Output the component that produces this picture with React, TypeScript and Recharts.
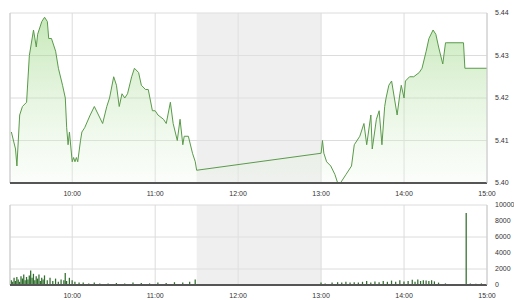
import React from "react";
import {
  Area, AreaChart, Bar, BarChart, CartesianGrid, ReferenceArea, ReferenceLine,
  XAxis, YAxis
} from "recharts";

// price line (time, price)
const priceTimes = [
  "09:16", "09:19", "09:20", "09:22", "09:24", "09:27", "09:29", "09:32", "09:34", "09:35",
  "09:38", "09:40", "09:42", "09:43", "09:45", "09:48", "09:50", "09:53", "09:55", "09:56",
  "09:57", "09:58", "10:00", "10:01", "10:02", "10:03", "10:04", "10:06", "10:07", "10:09",
  "10:13", "10:16", "10:19", "10:22", "10:25", "10:27", "10:30", "10:32", "10:34", "10:36",
  "10:38", "10:40", "10:43", "10:45", "10:48", "10:50", "10:53", "10:55", "10:58", "11:00",
  "11:02", "11:06", "11:08", "11:11", "11:13", "11:16", "11:18", "11:20", "11:21", "11:24",
  "11:27", "11:29", "11:30",
  "13:00", "13:01", "13:02", "13:04", "13:07", "13:10", "13:12", "13:14", "13:18", "13:22",
  "13:24", "13:28", "13:31", "13:33", "13:36", "13:37", "13:40", "13:42", "13:44", "13:46",
  "13:47", "13:49", "13:51", "13:53", "13:55", "13:57", "13:58", "14:00", "14:01", "14:04",
  "14:07", "14:11", "14:13", "14:16", "14:18", "14:21", "14:23", "14:25", "14:28", "14:30",
  "14:31", "14:43", "14:44", "15:00"
];
const priceValues = [
  5.412, 5.408, 5.404, 5.416, 5.418, 5.419, 5.430, 5.436, 5.432, 5.435,
  5.438, 5.439, 5.438, 5.434, 5.434, 5.431, 5.427, 5.423, 5.420, 5.413,
  5.409, 5.412, 5.405, 5.406, 5.405, 5.406, 5.405, 5.410, 5.412, 5.413,
  5.416, 5.418, 5.416, 5.414, 5.418, 5.420, 5.425, 5.423, 5.418, 5.421,
  5.420, 5.421, 5.425, 5.427, 5.426, 5.423, 5.422, 5.422, 5.417, 5.417,
  5.416, 5.415, 5.414, 5.419, 5.414, 5.410, 5.415, 5.409, 5.411, 5.411,
  5.407, 5.405, 5.403,
  5.407, 5.410, 5.407, 5.405, 5.404, 5.402, 5.400, 5.400, 5.402, 5.404,
  5.409, 5.411, 5.414, 5.409, 5.416, 5.408, 5.415, 5.417, 5.409, 5.418,
  5.420, 5.423, 5.424, 5.420, 5.416, 5.421, 5.423, 5.420, 5.424, 5.425,
  5.425, 5.426, 5.427, 5.431, 5.434, 5.436, 5.435, 5.432, 5.428, 5.433,
  5.433, 5.433, 5.427, 5.427
];

// volume bars (time, volume)
const volumeTimes = [
  "09:16", "09:17", "09:18", "09:19", "09:20", "09:21", "09:22", "09:23", "09:24", "09:25",
  "09:26", "09:27", "09:28", "09:29", "09:30", "09:31", "09:32", "09:33", "09:34", "09:35",
  "09:36", "09:37", "09:38", "09:39", "09:40", "09:42", "09:44", "09:46", "09:48", "09:50",
  "09:52", "09:54", "09:55", "09:56", "09:58", "10:00", "10:02", "10:05", "10:08", "10:12",
  "10:16", "10:20", "10:26", "10:32", "10:38", "10:44", "10:50", "10:56", "11:02", "11:08",
  "11:14", "11:20", "11:25", "11:29",
  "13:00", "13:03", "13:08", "13:12", "13:15", "13:18", "13:21", "13:24", "13:27", "13:30",
  "13:33", "13:36", "13:39", "13:42", "13:45", "13:48", "13:51", "13:54", "13:57", "14:00",
  "14:03", "14:06", "14:08", "14:10", "14:12", "14:14", "14:16", "14:18", "14:20", "14:22",
  "14:25", "14:30", "14:45", "14:48", "14:52", "14:56"
];
const volumeValues = [
  600, 400, 900, 500, 1000, 700, 400, 1100, 800, 1300,
  600, 1000, 700, 1200, 1800, 900, 1400, 600, 1100, 800,
  1300, 500, 900, 700, 1200, 600, 900, 500, 800, 400,
  700, 600, 1500, 500, 900, 600, 400, 300, 300, 200,
  300, 200, 200, 250, 200, 300, 250, 200, 300, 250,
  350, 300, 400, 700,
  300, 200, 300, 350, 300, 400, 300, 350, 300, 400,
  500, 300, 450, 350, 500, 400, 550, 400, 600, 450,
  500, 650, 400, 700, 500, 600, 550, 500, 600, 450,
  300, 200, 9000, 200, 150, 200
];

const timeTicks = ["10:00", "11:00", "12:00", "13:00", "14:00", "15:00"];
const priceTicks = [5.40, 5.41, 5.42, 5.43, 5.44];
const volumeTicks = [0, 2000, 4000, 6000, 8000, 10000];

const toMin = (t: string) => {
  const [h, m] = t.split(":").map(Number);
  return h * 60 + m;
};
const fmtTime = (v: number) =>
  `${String(Math.floor(v / 60)).padStart(2, "0")}:${String(v % 60).padStart(2, "0")}`;

const priceData = priceTimes.map((t, i) => ({ t: toMin(t), p: priceValues[i] }));
const volumeData = volumeTimes.map((t, i) => ({ t: toMin(t), v: volumeValues[i] }));
const xTicks = timeTicks.map(toMin);
const xDomain = [toMin("09:15"), toMin("15:00")];

const tickStyle = { fontSize: 7, fill: "#333", fontFamily: "Liberation Sans, Arial, sans-serif" };

export default function App() {
  return (
    <div style={{ position: "absolute", left: 0, top: 0, width: 514, height: 300, background: "#fff" }}>
      <div style={{ position: "absolute", left: 0, top: 0 }}>
        <AreaChart width={514} height={197} data={priceData}
          margin={{ top: 13, right: 0, left: 10, bottom: 0 }}>
          <defs>
            <linearGradient id="pg" x1="0" y1="0" x2="0" y2="1">
              <stop offset="0%" stopColor="#8fd275" stopOpacity={0.85} />
              <stop offset="100%" stopColor="#eef8ea" stopOpacity={0.4} />
            </linearGradient>
          </defs>
          <ReferenceArea x1={toMin("11:30")} x2={toMin("13:00")} fill="#e2e2e2" fillOpacity={0.55} stroke="none" />
          <CartesianGrid stroke="#dcdcdc" />
          <XAxis dataKey="t" type="number" domain={xDomain} ticks={xTicks} tickFormatter={fmtTime}
            tick={tickStyle} tickLine={false} axisLine={{ stroke: "#555", strokeWidth: 2 }} height={14}
            tickMargin={2} allowDataOverflow />
          <YAxis orientation="right" domain={[5.40, 5.44]} ticks={priceTicks} tickFormatter={(v: number) => v.toFixed(2)}
            tick={tickStyle} tickLine={false} axisLine={{ stroke: "#ccc" }} width={27} tickMargin={2} allowDataOverflow />
          <ReferenceLine x={xDomain[0]} stroke="#ccc" />
          <Area type="linear" dataKey="p" stroke="#5a9a4a" strokeWidth={1} fill="url(#pg)" isAnimationActive={false} baseValue={5.40} />
        </AreaChart>
      </div>
      <div style={{ position: "absolute", left: 0, top: 197 }}>
        <BarChart width={514} height={103} data={volumeData}
          margin={{ top: 8, right: 0, left: 10, bottom: 0 }}>
          <ReferenceArea x1={toMin("11:30")} x2={toMin("13:00")} fill="#e2e2e2" fillOpacity={0.55} stroke="none" />
          <CartesianGrid stroke="#dcdcdc" />
          <XAxis dataKey="t" type="number" domain={xDomain} ticks={xTicks} tickFormatter={fmtTime}
            tick={tickStyle} tickLine={false} axisLine={{ stroke: "#555", strokeWidth: 2 }} height={15}
            tickMargin={2} allowDataOverflow />
          <YAxis orientation="right" domain={[0, 10000]} ticks={volumeTicks}
            tick={tickStyle} tickLine={false} axisLine={{ stroke: "#ccc" }} width={27} tickMargin={2} />
          <ReferenceLine x={xDomain[0]} stroke="#ccc" />
          <Bar dataKey="v" fill="#2f6e2c" barSize={1.5} isAnimationActive={false} />
        </BarChart>
      </div>
    </div>
  );
}
